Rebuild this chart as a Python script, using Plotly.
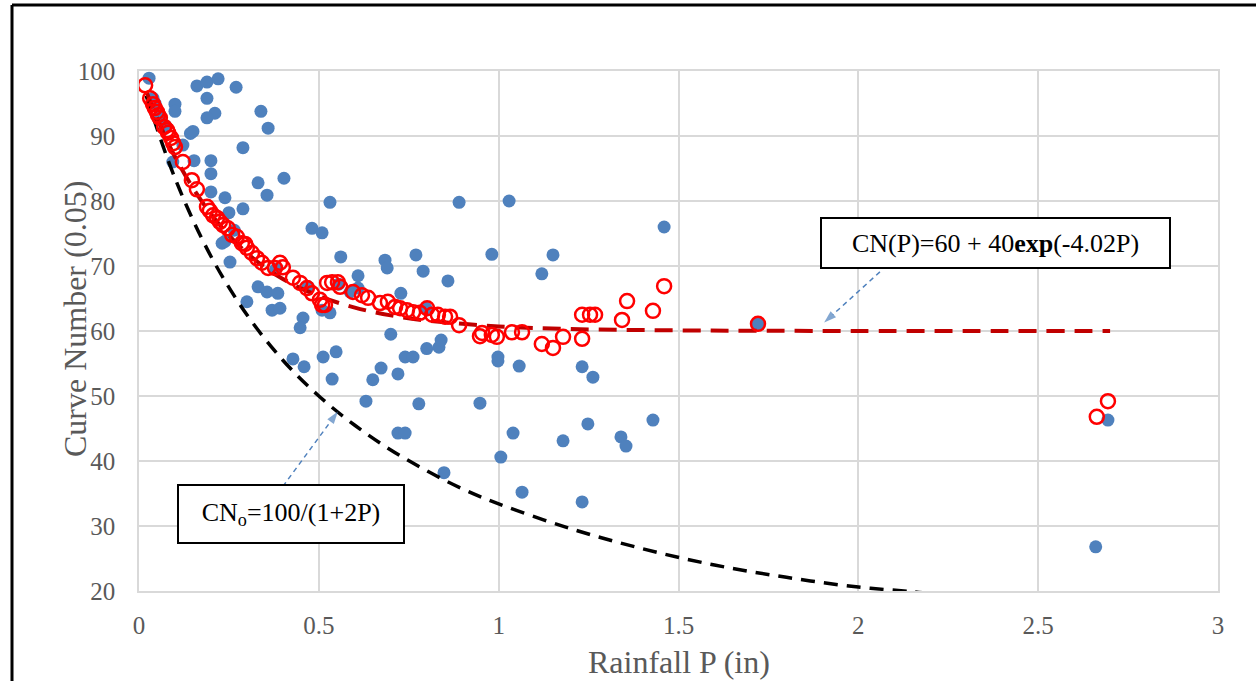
import plotly.graph_objects as go

# Observed (blue dots)
obs_p = [0.028, 0.039, 0.045, 0.060, 0.075, 0.100, 0.100, 0.094, 0.122, 0.150,
         0.143, 0.153, 0.161, 0.189, 0.220, 0.270, 0.189, 0.211, 0.189, 0.339,
         0.359, 0.289, 0.200, 0.200, 0.200, 0.331, 0.356, 0.403, 0.239, 0.289,
         0.250, 0.531, 0.890, 1.029, 0.481, 0.509, 0.561, 0.231, 0.239, 0.253,
         0.684, 0.690, 0.770, 0.790, 0.859, 0.609, 0.609, 0.728, 0.981, 1.151,
         1.120, 1.460, 0.331, 0.356, 0.386, 0.300, 0.370, 0.392, 0.456, 0.448,
         0.531, 0.509, 0.587, 0.700, 0.428, 0.459, 0.512, 0.548, 0.537, 0.650,
         0.673, 0.720, 0.740, 0.762, 0.800, 0.834, 0.840, 0.998, 0.998, 1.057,
         0.631, 0.778, 0.948, 0.720, 0.740, 1.040, 1.006, 0.848, 1.065, 1.232,
         1.262, 1.179, 1.248, 1.340, 1.354, 1.429, 1.232, 1.721, 2.694, 2.660,
         0.380, 0.265, 0.470, 0.555, 0.798]
obs_cn = [98.9, 95.8, 95.0, 93.0, 91.5, 94.9, 93.8, 86.0, 88.6, 90.7,
          90.4, 86.2, 97.7, 98.3, 98.8, 97.5, 95.8, 93.5, 92.8, 93.8,
          91.2, 88.2, 86.2, 84.2, 81.4, 82.8, 80.9, 83.5, 80.5, 78.8,
          78.2, 79.8, 79.8, 80.0, 75.8, 75.1, 71.4, 73.5, 73.8, 70.6,
          70.9, 69.7, 71.7, 69.2, 67.7, 68.5, 66.6, 65.8, 71.8, 71.7,
          68.8, 76.0, 66.8, 66.0, 65.8, 64.5, 63.2, 63.5, 62.0, 60.5,
          62.8, 63.2, 66.0, 59.5, 55.7, 54.5, 56.0, 56.8, 52.6, 52.5,
          54.3, 53.4, 56.0, 56.0, 57.3, 57.5, 58.6, 56.0, 55.4, 54.6,
          49.2, 48.8, 48.9, 44.3, 44.3, 44.3, 40.6, 38.2, 35.2, 54.5,
          52.9, 43.1, 45.7, 43.7, 42.3, 46.3, 33.7, 61.1, 46.3, 26.8,
          69.5, 75.5, 66.8, 67.2, 63.5]

# Fitted CN(P) (red open circles)
fit_p = [0.017, 0.031, 0.039, 0.044, 0.050, 0.053, 0.058, 0.070, 0.078, 0.081,
         0.089, 0.095, 0.100, 0.122, 0.147, 0.161, 0.189, 0.197, 0.206, 0.217,
         0.225, 0.234, 0.247, 0.259, 0.272, 0.286, 0.295, 0.300, 0.314, 0.328,
         0.342, 0.359, 0.378, 0.392, 0.400, 0.428, 0.448, 0.467, 0.481, 0.503,
         0.509, 0.517, 0.523, 0.537, 0.553, 0.559, 0.595, 0.620, 0.637, 0.670,
         0.692, 0.712, 0.726, 0.745, 0.762, 0.781, 0.801, 0.815, 0.831, 0.851,
         0.865, 0.890, 0.948, 0.954, 0.981, 0.995, 1.037, 1.065, 1.120, 1.151,
         1.179, 1.232, 1.232, 1.254, 1.268, 1.343, 1.357, 1.429, 1.460, 1.721,
         2.663, 2.694]
fit_cn = [97.8, 95.8, 94.9, 94.3, 93.7, 93.2, 92.8, 91.4, 90.9, 90.5,
          89.7, 88.9, 88.3, 86.0, 83.2, 81.8, 79.1, 78.5, 77.8, 77.4,
          76.8, 76.3, 75.8, 74.8, 74.5, 73.5, 73.4, 72.8, 72.0, 71.2,
          70.5, 69.7, 69.7, 70.5, 69.8, 68.2, 67.4, 66.6, 65.8, 64.8,
          64.0, 64.0, 67.4, 67.5, 67.5, 66.8, 66.0, 65.5, 65.1, 64.3,
          64.5, 63.7, 63.5, 63.2, 62.9, 62.8, 63.5, 62.5, 62.5, 62.2,
          62.2, 60.9, 59.2, 59.7, 59.4, 59.1, 59.8, 59.8, 58.0, 57.4,
          59.1, 58.8, 62.5, 62.5, 62.5, 61.7, 64.6, 63.1, 66.9, 61.1,
          46.8, 49.2]

# CN(P) = 60 + 40exp(-4.02P) curve
curve_p = [0.02, 0.1, 0.2, 0.3, 0.4, 0.5, 0.6, 0.7, 0.8, 0.9, 1.0, 1.2, 1.5, 2.0, 2.7]
curve_cn = [96.9, 86.8, 78.0, 72.0, 68.0, 65.4, 63.6, 62.4, 61.6, 61.1, 60.7, 60.3, 60.1, 60.0, 60.0]

# CNo = 100/(1+2P) curve
cno_p = [0.02, 0.1, 0.2, 0.3, 0.4, 0.5, 0.6, 0.7, 0.8, 0.9, 1.0, 1.2, 1.4, 1.6, 1.8, 2.0, 2.15, 2.2]
cno_cn = [96.2, 83.5, 71.5, 62.5, 55.5, 50.0, 45.5, 41.7, 38.5, 35.7, 33.4, 29.6, 26.5, 24.0, 22.1, 20.6, 19.9, 19.6]

x_ticks = [0, 0.5, 1, 1.5, 2, 2.5, 3]
x_tick_text = ["0", "0.5", "1", "1.5", "2", "2.5", "3"]
y_ticks = [20, 30, 40, 50, 60, 70, 80, 90, 100]

BLUE = "#4F81BD"
SERIF = "Liberation Serif, Times New Roman, serif"
GRAY = "#595959"

fig = go.Figure()
fig.add_trace(go.Scatter(x=obs_p, y=obs_cn, mode="markers",
                         marker=dict(color=BLUE, size=13, line=dict(width=0))))
fig.add_trace(go.Scatter(x=cno_p, y=cno_cn, mode="lines", line_shape="spline",
                         line=dict(color="black", width=3.5, dash="14px,9px")))
fig.add_trace(go.Scatter(x=curve_p, y=curve_cn, mode="lines", line_shape="spline",
                         line=dict(color="#C00000", width=4, dash="18px,10px")))
fig.add_trace(go.Scatter(x=fit_p, y=fit_cn, mode="markers",
                         marker=dict(symbol="circle-open", color="#FF0000", size=14,
                                     line=dict(color="#FF0000", width=2.5))))

# dashed callout arrows (start at text box, end with arrowhead)
arrow_x = [[2.06, 1.905], [0.400, 0.553]]
arrow_y = [[69.1, 61.3], [36.1, 47.6]]
for ax_, ay_ in zip(arrow_x, arrow_y):
    fig.add_trace(go.Scatter(x=ax_, y=ay_, mode="lines+markers",
                             line=dict(color=BLUE, width=1.5, dash="5px,4px"),
                             marker=dict(symbol="arrow", angleref="previous", size=[0, 13],
                                         color=BLUE, line=dict(width=0))))

# text boxes
fig.add_annotation(x=0.794, y=0.669, xref="paper", yref="paper", showarrow=False,
                   xanchor="center", yanchor="middle",
                   text="CN(P)=60 + 40<b>exp</b>(-4.02P)", font=dict(family=SERIF, size=26, color="black"),
                   bordercolor="black", borderwidth=2, borderpad=3, bgcolor="white",
                   width=341, height=42)
fig.add_annotation(x=0.1409, y=0.148, xref="paper", yref="paper", showarrow=False,
                   xanchor="center", yanchor="middle",
                   text="CN<sub>o</sub>=100/(1+2P)", font=dict(family=SERIF, size=26, color="black"),
                   bordercolor="black", borderwidth=2, borderpad=3, bgcolor="white",
                   width=218, height=50)

# axis titles
fig.add_annotation(x=-0.0593, y=0.523, xref="paper", yref="paper", showarrow=False,
                   xanchor="center", yanchor="middle", textangle=-90,
                   text="Curve Number (0.05)", font=dict(family=SERIF, size=32, color=GRAY))
fig.add_annotation(x=0.5, y=-0.1365, xref="paper", yref="paper", showarrow=False,
                   xanchor="center", yanchor="middle",
                   text="Rainfall P (in)", font=dict(family=SERIF, size=32, color=GRAY))

# outer frame (left and top edges)
fig.add_shape(type="line", xref="paper", yref="paper", x0=-0.1177, x1=-0.1177, y0=1.127, y1=-0.2,
              line=dict(color="black", width=3))
fig.add_shape(type="line", xref="paper", yref="paper", x0=-0.1177, x1=1.05, y0=1.127, y1=1.127,
              line=dict(color="black", width=3))

fig.update_layout(
    width=1256, height=681,
    margin=dict(l=139, r=38, t=71, b=90, autoexpand=False),
    paper_bgcolor="white", plot_bgcolor="white",
    showlegend=False,
    font=dict(family=SERIF, color=GRAY),
)
fig.update_xaxes(range=[0, 3], tickvals=x_ticks, ticktext=x_tick_text,
                 showgrid=True, gridcolor="#D9D9D9", gridwidth=1.5,
                 showline=True, linecolor="#D9D9D9", linewidth=1.5, mirror=True,
                 zeroline=False, ticks="", ticklabelstandoff=11, automargin=False,
                 tickfont=dict(family=SERIF, size=25, color=GRAY))
fig.update_yaxes(range=[20, 100], tickvals=y_ticks,
                 showgrid=True, gridcolor="#D9D9D9", gridwidth=1.5,
                 showline=True, linecolor="#D9D9D9", linewidth=1.5, mirror=True,
                 zeroline=False, ticks="", ticklabelstandoff=17, automargin=False,
                 tickfont=dict(family=SERIF, size=25, color=GRAY))

fig.write_html("out.html", config={"displayModeBar": False},
               post_script="document.body.style.margin='0';document.body.style.overflow='hidden';")
